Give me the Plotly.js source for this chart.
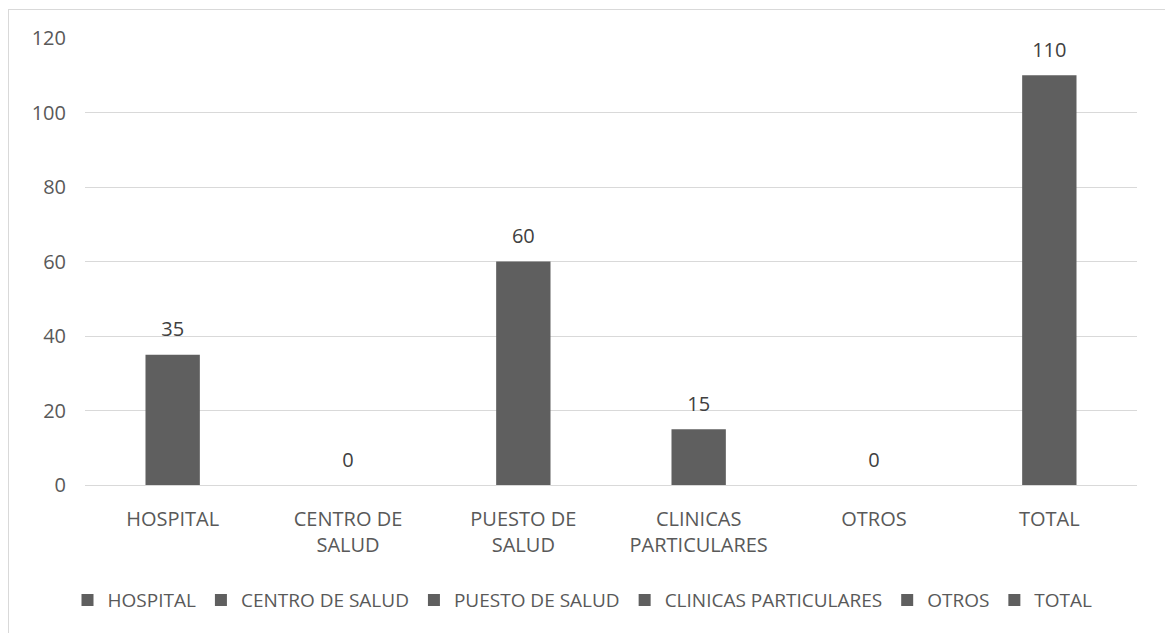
<!DOCTYPE html>
<html><head><meta charset="utf-8">
<script src="https://cdn.plot.ly/plotly-3.0.1.min.js"></script>
<style>
html,body{margin:0;padding:0;background:#fff;}
#wrap{position:relative;width:1165px;height:633px;}
#frame{position:absolute;left:8px;top:9px;width:1157px;height:624px;border-top:1px solid #d9d9d9;border-left:1px solid #d9d9d9;box-sizing:border-box;pointer-events:none;}
#chart{position:absolute;left:0;top:0;width:1165px;height:633px;}
</style></head>
<body><div id="wrap"><div id="chart"></div><div id="frame"></div></div>
<script>
const categories = ["HOSPITAL","CENTRO DE SALUD","PUESTO DE SALUD","CLINICAS PARTICULARES","OTROS","TOTAL"];
const tickLabels = ["HOSPITAL","CENTRO DE<br>SALUD","PUESTO DE<br>SALUD","CLINICAS<br>PARTICULARES","OTROS","TOTAL"];
const values = [35,0,60,15,0,110];

const font = "'Open Sans', sans-serif";
const traces = categories.map((c,i)=>({
  type:'bar', name:c, x:[c], y:[values[i]],
  marker:{color:'#5f5f5f'}, width:0.31, hoverinfo:'x+y'
}));
traces.push({
  type:'scatter', mode:'markers+text', x:categories, y:values,
  text:values.map(String), textposition:'top center', cliponaxis:false,
  textfont:{color:'#404040', size:20, family:font},
  marker:{size:20, opacity:0}, showlegend:false, hoverinfo:'skip'
});
const layout = {
  width:1165, height:633,
  margin:{l:85, r:28, t:38, b:148, autoexpand:false},
  paper_bgcolor:'#fff', plot_bgcolor:'#fff',
  barmode:'overlay',
  font:{family:font, color:'#595959', size:20},
  xaxis:{type:'category', automargin:false, tickvals:categories, ticktext:tickLabels, showgrid:false, showline:false, ticks:'', ticklabelstandoff:20, tickfont:{size:20, color:'#595959'}},
  yaxis:{range:[0,120], automargin:false, dtick:20, gridcolor:'#d9d9d9', gridwidth:1, zeroline:true, zerolinecolor:'#d9d9d9', zerolinewidth:1, showline:false, ticks:'', ticklabelstandoff:18, tickfont:{size:20, color:'#595959'}},
  showlegend:true,
  legend:{orientation:'h', x:0.5, xanchor:'center', xref:'container', yref:'container', y:0.052, yanchor:'middle', font:{size:19, color:'#595959'}, itemwidth:30, traceorder:'normal'}
};
Plotly.newPlot('chart', traces, layout, {displayModeBar:false, staticPlot:true});
</script></body></html>
